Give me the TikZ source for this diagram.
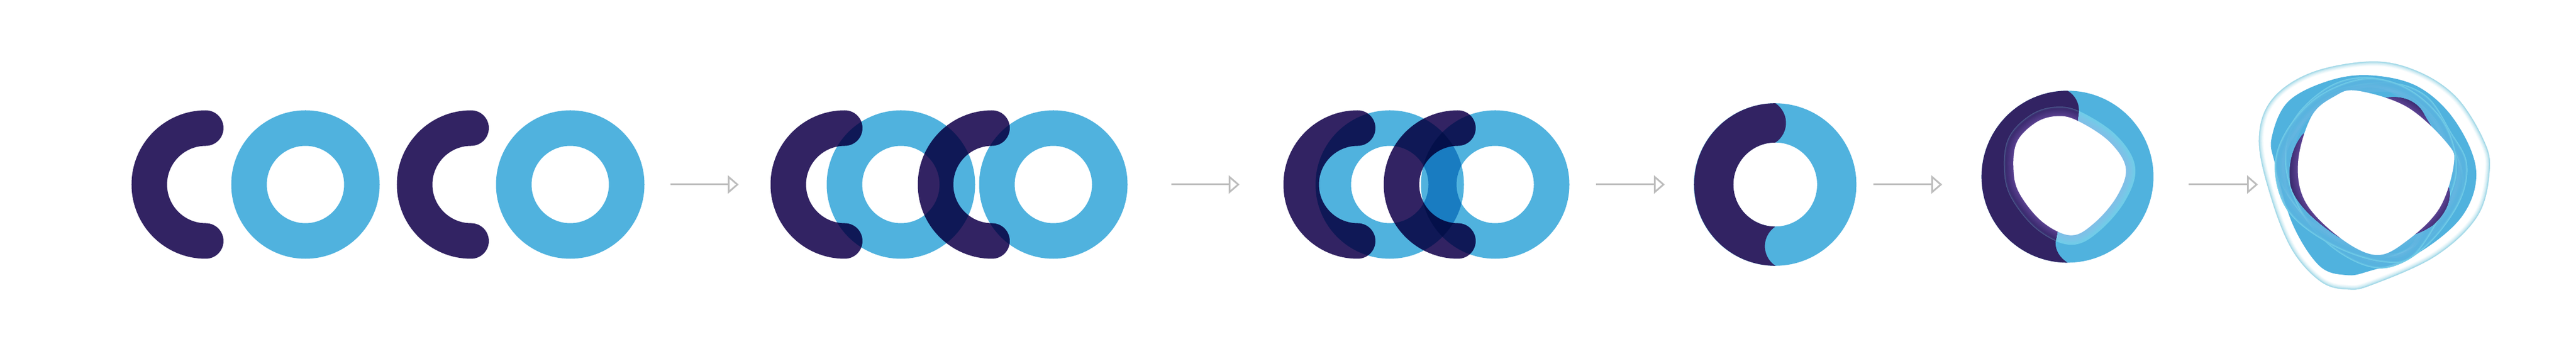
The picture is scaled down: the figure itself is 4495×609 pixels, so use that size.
\documentclass[tikz,border=0pt]{standalone}
\usetikzlibrary{arrows.meta}
\definecolor{cnavy}{HTML}{322363}
\definecolor{ccyan}{HTML}{50B2DE}
\definecolor{cgrey}{HTML}{BDBDBD}
\definecolor{cedge}{HTML}{A3D9E8}
\definecolor{cbright}{HTML}{76D2EA}
\definecolor{csoft}{HTML}{8CBEE8}
\definecolor{cviolet}{HTML}{59408F}
\definecolor{cdeep}{HTML}{3A2A6E}
\definecolor{cslate}{HTML}{53709A}
\tikzstyle{letter}=[line width=62pt, blend mode=multiply]
\tikzstyle{flowarrow}=[draw=cgrey, line width=3pt, -{Triangle[open, length=19pt, width=32pt, line width=3pt]}]
\def\holefive{plot[smooth cycle, tension=0.6] coordinates {(615,242) (780,350) (868,490) (820,640) (700,780) (580,842) (430,770) (310,620) (280,490) (300,350) (400,250) (510,218)}}
\def\holesix{plot[smooth cycle, tension=0.6] coordinates {(640,235) (900,320) (1110,510) (1145,620) (1070,850) (900,1020) (740,1095) (550,1005) (370,820) (330,610) (400,370) (520,265)}}
\def\outersix{plot[smooth cycle, tension=0.6] coordinates {(720,82) (960,135) (1160,270) (1300,490) (1333,650) (1270,890) (1050,1100) (720,1250) (590,1275) (450,1235) (300,1070) (190,800) (125,500) (190,285) (400,140)}}
\def\bodysix{plot[smooth cycle, tension=0.6] coordinates {(720,155) (960,215) (1150,390) (1262,650) (1190,890) (950,1090) (700,1180) (580,1200) (440,1150) (300,930) (210,620) (192,480) (280,290) (500,180)}}
\def\bandone{plot[smooth cycle, tension=0.6] coordinates {(640,166) (830,195) (1020,350) (1140,520) (1195,730) (1080,950) (800,1110) (560,1060) (330,860) (212,620) (310,380) (470,225)}}
\def\bandtwo{plot[smooth cycle, tension=0.6] coordinates {(790,190) (1000,260) (1130,450) (1215,620) (1170,830) (990,1060) (770,1165) (540,1080) (350,880) (262,620) (310,400) (500,240)}}
\def\bandthree{plot[smooth cycle, tension=0.6] coordinates {(680,170) (900,220) (1085,385) (1160,600) (1120,800) (940,1095) (760,1130) (500,1040) (280,870) (208,640) (270,440) (440,260)}}
\def\patchsix{(358,460) .. controls (300,530) and (275,620) .. (290,730) .. controls (310,810) and (400,910) .. (550,1005) -- (560,900) -- (420,600) -- cycle
	(770,276) .. controls (860,255) and (945,280) .. (985,350) .. controls (1000,380) and (1020,410) .. (1035,435) -- (950,450) -- (780,320) -- cycle
	(1118,740) .. controls (1135,800) and (1110,870) .. (1040,935) .. controls (1000,965) and (960,980) .. (925,992) -- (900,900) -- (1050,720) -- cycle}
\def\darkfive{(563,85) arc[start angle=90, end angle=270, radius=150pt]
	.. controls (525,960) and (500,925) .. (500,880) -- (510,825) -- (615,242) -- (623,190)
	.. controls (623,150) and (605,110) .. (563,85) -- cycle}
\begin{document}
\begin{tikzpicture}[x=1pt, y=1pt]
	\useasboundingbox (0,0) rectangle (4495,609);
	\fill[white] (0,0) rectangle (4495,609);
	\foreach \cone/\oone/\ctwo/\otwo in {359/533/822/995, 1474/1572/1731/1838, 2369/2425/2544/2609}{
		\draw[letter, draw=cnavy, line cap=round] (\cone,385.5) arc[start angle=90, end angle=270, radius=98.5pt];
		\draw[letter, draw=ccyan] (\oone,287) circle[radius=98.5pt];
		\draw[letter, draw=cnavy, line cap=round] (\ctwo,385.5) arc[start angle=90, end angle=270, radius=98.5pt];
		\draw[letter, draw=ccyan] (\otwo,287) circle[radius=98.5pt];
	}
	\foreach \name/\start/\stop in {one/1170/1289, two/2044/2163, three/2785/2905, four/3269/3389, five/3819/3940}{
		\coordinate (from\name) at (\start,287);
		\coordinate (to\name) at (\stop,287);
		\draw[flowarrow] (from\name) -- (to\name);
	}
	\draw[ccyan, line width=68.5pt] (3097.5,287) circle[radius=107.55pt];
	\fill[cnavy] (3098,428.8) arc[start angle=90, end angle=270, radius=141.8pt]
		arc[start angle=236.6, end angle=123.4, radius=41pt]
		arc[start angle=270, end angle=90, radius=73.3pt]
		arc[start angle=-56.6, end angle=56.6, radius=41pt] -- cycle;
	\begin{scope}[shift={(3420,479)}, x=0.33333pt, y=-0.33333pt]
		\fill[ccyan] (563,535) circle[radius=150pt];
		\foreach \w/\m in {33/0, 31/5, 28/15, 25/25, 22/35, 19/45, 16/55, 12/65, 8/75, 4/85}
			\draw[csoft!\m!cbright!85!ccyan, line width=\w pt] \holefive;
		\fill[cnavy] \darkfive;
		\begin{scope}
			\clip \darkfive;
			\foreach \w/\m in {33/70, 31/35, 29/10}
				\draw[cslate!\m!cdeep, line width=\w pt] \holefive;
			\foreach \w/\m in {26/10, 22/25, 18/40, 14/55, 10/70, 6/85, 3/100}
				\draw[cviolet!\m!cdeep, line width=\w pt] \holefive;
		\end{scope}
		\fill[white] \holefive;
	\end{scope}
	\begin{scope}[shift={(3900,529)}, x=0.33333pt, y=-0.33333pt]
		\fill[white] \outersix;
		\begin{scope}
			\clip \outersix;
			\foreach \w/\m in {16/10, 13/25, 10/40, 7/60, 4/85, 2/100}
				\draw[cedge!\m!white, line width=\w pt] \outersix;
		\end{scope}
		\fill[ccyan] \bodysix;
		\foreach \band in {\bandone,\bandtwo,\bandthree}{
			\begin{scope}
				\clip \band;
				\foreach \w/\m in {34/50, 30/30, 24/15, 18/5}
					\draw[csoft!\m!ccyan, line width=\w pt, opacity=0.4] \band;
				\draw[cbright, line width=6pt, opacity=0.35] \band;
				\draw[cbright, line width=3pt, opacity=0.7] \band;
			\end{scope}
		}
		\fill[cdeep] \patchsix;
		\begin{scope}
			\clip \patchsix;
			\foreach \w/\m in {28/10, 24/25, 20/40, 16/55, 12/70, 8/85, 4/100}
				\draw[cviolet!\m!cdeep, line width=\w pt] \holesix;
		\end{scope}
		\fill[white] \holesix;
	\end{scope}
\end{tikzpicture}
\end{document}
